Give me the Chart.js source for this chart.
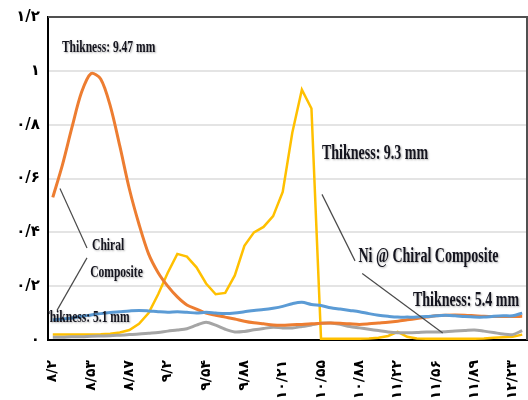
<!DOCTYPE html>
<html>
<head>
<meta charset="utf-8">
<script src="https://cdn.jsdelivr.net/npm/chart.js@4"></script>
<style>
  body { margin: 0; background: #fff; }
  canvas { display: block; }
</style>
</head>
<body>
<canvas id="absCV" width="528" height="400"></canvas>
<script>
// frequency (GHz) of every sample; only every 4th is labelled on the axis
const freqs = ['8.2', '8.28', '8.37', '8.45', '8.53', '8.62', '8.7', '8.78', '8.87', '8.95',
  '9.03', '9.12', '9.2', '9.29', '9.37', '9.45', '9.54', '9.62', '9.7', '9.79',
  '9.88', '9.96', '10.04', '10.13', '10.21', '10.3', '10.38', '10.46', '10.55', '10.63',
  '10.71', '10.8', '10.88', '10.97', '11.05', '11.13', '11.22', '11.3', '11.38', '11.47',
  '11.56', '11.64', '11.72', '11.81', '11.89', '11.98', '12.06', '12.14', '12.23', '12.31'];

const blueVals = [0.075, 0.078, 0.082, 0.088, 0.093, 0.098, 0.102, 0.105, 0.108, 0.11,
  0.108, 0.105, 0.103, 0.105, 0.103, 0.1, 0.103, 0.1, 0.098, 0.1,
  0.105, 0.11, 0.113, 0.118, 0.125, 0.135, 0.14, 0.132, 0.128, 0.12,
  0.115, 0.11, 0.105, 0.098, 0.092, 0.088, 0.085, 0.085, 0.085, 0.087,
  0.09, 0.092, 0.09, 0.087, 0.085, 0.085, 0.088, 0.09, 0.09, 0.1];

const orangeVals = [0.53, 0.65, 0.79, 0.92, 0.99, 0.97, 0.87, 0.72, 0.56, 0.43,
  0.32, 0.25, 0.2, 0.16, 0.13, 0.115, 0.1, 0.092, 0.085, 0.078,
  0.07, 0.064, 0.06, 0.056, 0.055, 0.057, 0.058, 0.06, 0.062, 0.063,
  0.062, 0.06, 0.058, 0.06, 0.063, 0.066, 0.07, 0.075, 0.08, 0.085,
  0.09, 0.092, 0.093, 0.092, 0.09, 0.088, 0.087, 0.087, 0.087, 0.088];

const grayVals = [0.01, 0.01, 0.012, 0.012, 0.014, 0.015, 0.016, 0.018, 0.02, 0.022,
  0.025, 0.028, 0.033, 0.037, 0.042, 0.055, 0.066, 0.055, 0.04, 0.03,
  0.032, 0.038, 0.043, 0.047, 0.045, 0.045, 0.05, 0.056, 0.062, 0.063,
  0.058, 0.05, 0.045, 0.04, 0.035, 0.03, 0.027, 0.027, 0.028, 0.03,
  0.03, 0.031, 0.033, 0.035, 0.037, 0.033, 0.028, 0.022, 0.02, 0.035];

const yellowVals = [0.02, 0.02, 0.02, 0.02, 0.02, 0.021, 0.023, 0.028, 0.037, 0.06,
  0.1, 0.17, 0.25, 0.32, 0.31, 0.27, 0.21, 0.17, 0.175, 0.24,
  0.35, 0.4, 0.42, 0.46, 0.55, 0.77, 0.93, 0.86, 0.005, 0.005,
  0.005, 0.005, 0.005, 0.006, 0.008, 0.015, 0.03, 0.012, 0.006, 0.005,
  0.005, 0.005, 0.005, 0.005, 0.005, 0.006, 0.008, 0.01, 0.012, 0.02];

// callouts, anchored in data units: [category index, value]
const notes = [
  { text: 'Thikness: 9.47 mm', at: [0.95, 1.085], size: 16.5 },
  { text: 'Thikness: 9.3 mm', at: [28.1, 0.692], size: 20 },
  { text: 'Chiral', at: [4.1, 0.35], size: 16.5 },
  { text: 'Composite', at: [3.9, 0.25], size: 16.5 },
  { text: 'Thikness: 5.1 mm', at: [-1.13, 0.081], size: 16.5 },
  { text: 'Ni @ Chiral Composite', at: [31.9, 0.31], size: 20 },
  { text: 'Thikness: 5.4 mm', at: [37.6, 0.147], size: 20 }
];
const leaders = [
  [[0.75, 0.563], [3.57, 0.342]],
  [[3.57, 0.305], [0.44, 0.11]],
  [[28.1, 0.541], [31.55, 0.294]],
  [[32.3, 0.247], [40.7, 0.026]]
];

const faDigits = '۰۱۲۳۴۵۶۷۸۹';
function toFa(s) {
  return String(s).replace(/[0-9]/g, d => faDigits[d]).replace('.', '/');
}

const calloutPlugin = {
  id: 'callouts',
  afterDatasetsDraw(chart) {
    const { ctx, chartArea: a, scales: { x, y } } = chart;
    ctx.save();
    ctx.beginPath();
    ctx.rect(a.left, a.top, a.right - a.left, a.bottom - a.top);
    ctx.clip();

    ctx.strokeStyle = '#4a4a4a';
    ctx.lineWidth = 1.2;
    leaders.forEach(l => {
      ctx.beginPath();
      ctx.moveTo(x.getPixelForValue(l[0][0]), y.getPixelForValue(l[0][1]));
      ctx.lineTo(x.getPixelForValue(l[1][0]), y.getPixelForValue(l[1][1]));
      ctx.stroke();
    });

    ctx.fillStyle = '#14141e';
    ctx.textBaseline = 'middle';
    ctx.textAlign = 'left';
    ctx.shadowColor = 'rgba(0,0,0,0.3)';
    ctx.shadowBlur = 2;
    ctx.shadowOffsetX = 1;
    ctx.shadowOffsetY = 1;
    notes.forEach(n => {
      const px = x.getPixelForValue(n.at[0]);
      const py = y.getPixelForValue(n.at[1]);
      ctx.save();
      ctx.translate(px, py);
      ctx.scale(0.7, 1);
      ctx.font = 'bold ' + n.size + 'px "Liberation Serif"';
      ctx.fillText(n.text, 0, 0);
      ctx.restore();
    });
    ctx.restore();

    // top and right frame
    ctx.save();
    ctx.strokeStyle = '#505050';
    ctx.lineWidth = 2;
    ctx.beginPath();
    ctx.moveTo(a.left, a.top);
    ctx.lineTo(a.right, a.top);
    ctx.lineTo(a.right, a.bottom);
    ctx.stroke();
    ctx.restore();
  }
};

(function(){
  const ctx = document.getElementById('absCV');

  new Chart(ctx, {
    type: 'line',
    data: {
      labels: freqs,
      datasets: [{
        label: 'blue',
        data: blueVals,
        borderColor: '#5B9BD5',
        borderWidth: 3,
        tension: 0.3
      }, {
        label: 'orange',
        data: orangeVals,
        borderColor: '#ED7D31',
        borderWidth: 3,
        tension: 0.3
      }, {
        label: 'gray',
        data: grayVals,
        borderColor: '#A5A5A5',
        borderWidth: 3,
        tension: 0.3
      }, {
        label: 'yellow',
        data: yellowVals,
        borderColor: '#FFC000',
        borderWidth: 2.5,
        tension: 0
      }]
    },
    options: {
      responsive: false,
      animation: false,
      elements: { point: { radius: 0 } },
      layout: { padding: { top: 14, right: 1, left: 0 } },
      plugins: {
        legend: { display: false },
        tooltip: { enabled: false }
      },
      scales: {
        x: {
          offset: true,
          grid: { display: false },
          border: { display: true, color: '#000', width: 2 },
          afterFit: s => {
            s.height = 60;
            s.paddingLeft = 0;
            s.paddingRight = 0;
          },
          ticks: {
            autoSkip: false,
            minRotation: 90,
            maxRotation: 90,
            padding: 12,
            color: '#000',
            font: { family: 'DejaVu Sans', size: 14, weight: 'bold' },
            callback: function(v, i) {
              return i % 4 === 0 ? toFa(freqs[i]) : '';
            }
          }
        },
        y: {
          min: 0,
          max: 1.2,
          grid: { color: '#e4e4e4', lineWidth: 2, drawTicks: false },
          border: { display: true, color: '#000', width: 2 },
          afterFit: s => { s.width = 48; },
          ticks: {
            stepSize: 0.2,
            padding: 8,
            color: '#000',
            font: { family: 'DejaVu Sans', size: 15, weight: 'bold' },
            callback: function(v) {
              const r = Math.round(v * 10) / 10;
              return toFa(Number.isInteger(r) ? r : r.toFixed(1));
            }
          }
        }
      }
    },
    plugins: [calloutPlugin]
  });
})();
</script>
</body>
</html>
